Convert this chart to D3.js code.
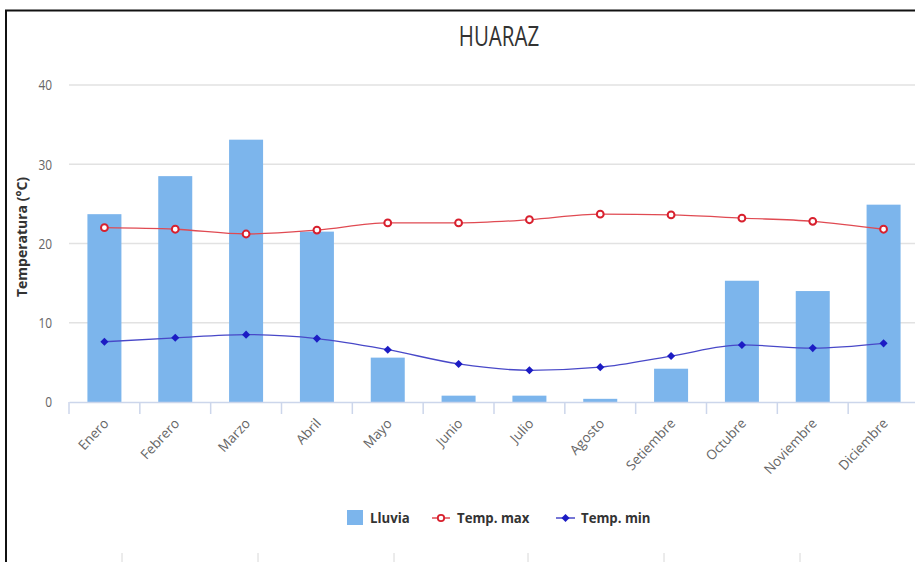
<!DOCTYPE html>
<html><head><meta charset="utf-8">
<script src="https://cdn.jsdelivr.net/npm/d3@7/dist/d3.min.js"></script>
<style>
body{margin:0;background:#fff;}
svg{display:block;}
text{font-family:"Open Sans",sans-serif;}
</style></head>
<body><svg id="c" width="915" height="562"></svg>
<script>
const months = ["Enero","Febrero","Marzo","Abril","Mayo","Junio","Julio","Agosto","Setiembre","Octubre","Noviembre","Diciembre"];
const lluvia = [23.7,28.5,33.1,21.5,5.6,0.8,0.8,0.4,4.2,15.3,14.0,24.9];
const tempMax = [22.0,21.8,21.2,21.7,22.6,22.6,23.0,23.7,23.6,23.2,22.8,21.8];
const tempMin = [7.6,8.1,8.5,8.0,6.6,4.8,4.0,4.4,5.8,7.2,6.8,7.4];
const yTicks = [0,10,20,30,40];
const title = "HUARAZ";
const yTitle = "Temperatura (°C)";
const legendItems = ["Lluvia","Temp. max","Temp. min"];

(function(){
const svg = d3.select("#c");
const pL = 69, pR = 919, pT = 85, pB = 402;
const x = d3.scaleBand().domain(months).range([pL,pR]).paddingInner(0).paddingOuter(0);
const y = d3.scaleLinear().domain([0,40]).range([pB,pT]);

// frame
svg.append("path").attr("d","M6,562 V10.5 H915").attr("fill","none").attr("stroke","#111").attr("stroke-width",2);

// title (condensed)
svg.append("text").attr("transform","translate(499,46) scale(0.76,1)").attr("text-anchor","middle")
  .attr("font-size",27).attr("fill","#333").text(title);

// grid
const gy = svg.append("g").attr("transform",`translate(${pL},0)`);
gy.selectAll("line.grid").data(yTicks.filter(d=>d>0)).enter().append("line")
  .attr("x1",0).attr("x2",915-pL).attr("y1",d=>y(d)).attr("y2",d=>y(d))
  .attr("stroke","#e2e2e2").attr("stroke-width",1.5);
const yAxis = d3.axisLeft(y).tickValues(yTicks).tickSize(0).tickPadding(0);
const ga = svg.append("g").attr("transform",`translate(${pL-17},0)`).call(yAxis);
ga.select(".domain").remove();
ga.selectAll("text").attr("font-size",14).attr("fill","#666").attr("dy","0.35em")
  .attr("transform","scale(0.85,1)").attr("x",0);

// y title
svg.append("text").attr("transform",`translate(27,237) rotate(-90)`).attr("text-anchor","middle")
  .attr("font-size",14).attr("font-weight","bold").attr("fill","#333").text(yTitle);

// bars
const bw = x.bandwidth()*0.48;
svg.append("g").selectAll("rect").data(months).enter().append("rect")
  .attr("x",d=>x(d)+x.bandwidth()/2-bw/2).attr("width",bw)
  .attr("y",(d,i)=>y(lluvia[i])).attr("height",(d,i)=>pB-y(lluvia[i]))
  .attr("fill","#7cb5ec");

// x axis
const xAxis = d3.axisBottom(x).tickSize(0).tickFormat(d=>d);
const gx = svg.append("g").attr("transform",`translate(0,${pB})`).call(xAxis);
gx.select(".domain").attr("stroke","#ccd6eb").attr("stroke-width",1.5);
gx.selectAll(".tick line").remove();
gx.selectAll(".tick text").attr("font-size",13.5).attr("fill","#666")
  .attr("text-anchor","end").attr("dy",0).attr("y",0)
  .attr("transform","translate(5,22) rotate(-47)");
svg.append("g").selectAll("line").data(months).enter().append("line")
  .attr("x1",d=>x(d)).attr("x2",d=>x(d)).attr("y1",pB).attr("y2",pB+12)
  .attr("stroke","#ccd6eb").attr("stroke-width",1.5);

const cx = d=>x(d)+x.bandwidth()/2;
const line = vals => d3.line().x((d,i)=>cx(months[i])).y(d=>y(d)).curve(d3.curveMonotoneX)(vals);

// temp max
svg.append("path").attr("d",line(tempMax)).attr("fill","none").attr("stroke","#e04a52").attr("stroke-width",1.3);
svg.append("g").selectAll("circle").data(tempMax).enter().append("circle")
  .attr("cx",(d,i)=>cx(months[i])).attr("cy",d=>y(d)).attr("r",3.4)
  .attr("fill","#fff").attr("stroke","#d8202e").attr("stroke-width",2);

// temp min
svg.append("path").attr("d",line(tempMin)).attr("fill","none").attr("stroke","#4848c8").attr("stroke-width",1.3);
const diamond = d3.symbol().type(d3.symbolDiamond2).size(42);
svg.append("g").selectAll("path").data(tempMin).enter().append("path")
  .attr("d",diamond).attr("transform",(d,i)=>`translate(${cx(months[i])},${y(d)})`)
  .attr("fill","#1c1cc4");

// legend
const lg = svg.append("g");
const lt = (tx,s) => lg.append("text").attr("transform",`translate(${tx},523) scale(0.88,1)`)
  .attr("font-size",15).attr("font-weight","bold").attr("fill","#333").text(s);
lg.append("rect").attr("x",347).attr("y",510).attr("width",16).attr("height",15).attr("fill","#7cb5ec");
lt(370, legendItems[0]);
lg.append("line").attr("x1",432).attr("x2",450).attr("y1",518).attr("y2",518).attr("stroke","#e04a52").attr("stroke-width",1.5);
lg.append("circle").attr("cx",441).attr("cy",518).attr("r",3.2).attr("fill","#fff").attr("stroke","#d8202e").attr("stroke-width",1.8);
lt(457, legendItems[1]);
lg.append("line").attr("x1",556).attr("x2",575).attr("y1",518).attr("y2",518).attr("stroke","#4848c8").attr("stroke-width",1.5);
lg.append("path").attr("d",diamond).attr("transform","translate(565.5,518)").attr("fill","#1c1cc4");
lt(581, legendItems[2]);

svg.append("g").selectAll("line").data([122,258,394,528,664,800]).enter().append("line")
  .attr("x1",d=>d).attr("x2",d=>d).attr("y1",553).attr("y2",562).attr("stroke","#d8d8d8");
})();
</script></body></html>
